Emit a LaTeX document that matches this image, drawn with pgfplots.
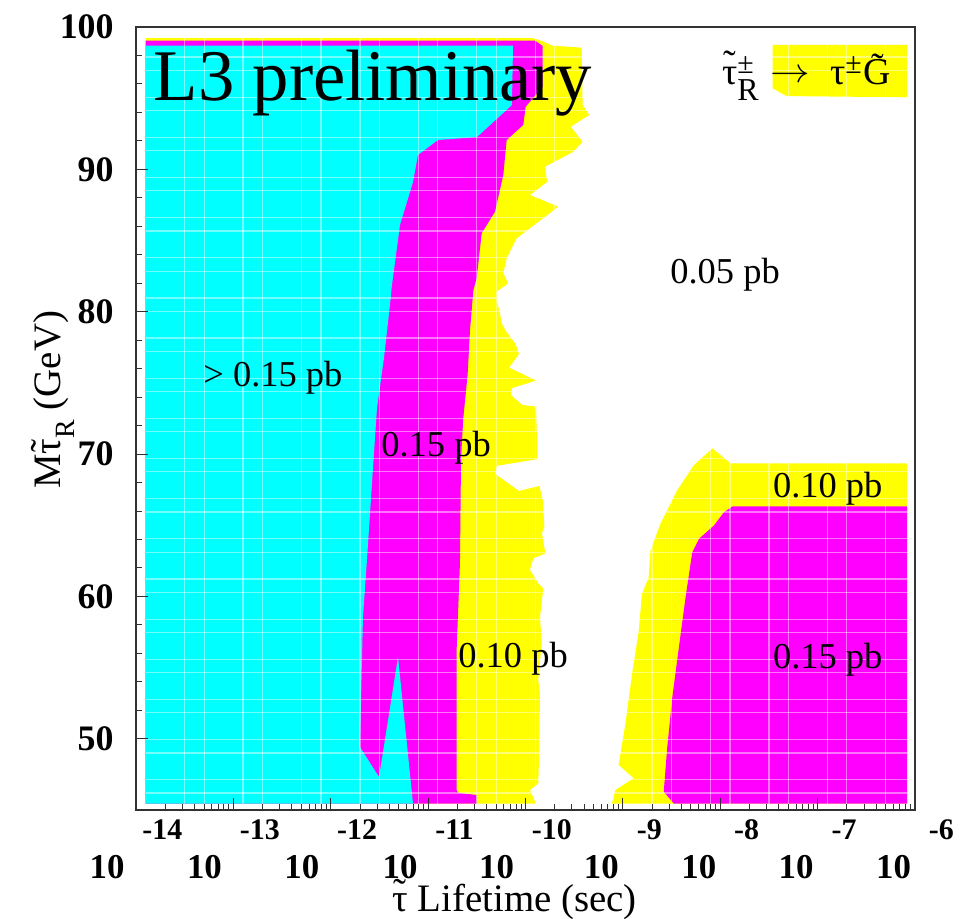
\documentclass[border=0pt]{standalone}
\usepackage{pgfplots}
\usepackage{pgfplotstable}
\pgfplotsset{compat=1.18}
\usepackage{fontspec}
\setmainfont{Liberation Serif}

\definecolor{zcyan}{RGB}{0,255,255}
\definecolor{zmagenta}{RGB}{255,0,255}
\definecolor{zyellow}{RGB}{255,255,0}

% tilde set over a glyph (slepton / gravitino notation)
\newcommand{\tildeon}[2][0pt]{\leavevmode\setbox0\hbox{#2}\rlap{\hbox to \wd0{\hss\raisebox{#1}{˜}\hss}}\box0}
% decade tick label: 10 with a raised exponent
\newcommand{\pw}[1]{\textbf{10}\hspace{9bp}\raisebox{19.5bp}{\fontsize{15}{15}\selectfont\bfseries -#1}}

% contour regions, log10(lifetime/s) versus stau mass (GeV)
\pgfplotstableread{
lx m
-13.9 45.45
-13.9 99.21
-9.920 99.21
-9.834 99.02
-9.721 98.69
-9.423 98.55
-9.413 94.52
-9.345 93.82
-9.536 93.00
-9.413 91.94
-9.509 91.24
-9.800 90.19
-9.776 89.13
-9.954 88.20
-9.663 87.38
-10.090 85.16
-10.193 83.75
-10.228 82.70
-10.177 82.00
-10.296 81.41
-10.293 80.82
-10.241 79.15
-10.205 78.68
-10.101 77.73
-10.067 77.03
-10.169 76.07
-9.892 75.17
-10.136 74.64
-10.153 74.17
-10.032 73.45
-9.892 73.33
-9.876 69.65
-10.293 69.18
-10.309 68.60
-10.067 67.41
-9.858 67.76
-9.823 66.81
-9.806 64.91
-9.831 64.46
-9.796 63.02
-9.920 62.68
-9.954 61.86
-9.869 60.92
-9.817 60.57
-9.851 58.58
-9.834 56.71
-9.869 54.13
-9.851 53.20
-9.858 49.21
-9.869 46.87
-9.954 46.40
-9.902 45.58
-9.902 45.45
}\yellowL

\pgfplotstableread{
lx m
-13.9 45.45
-13.9 99.04
-9.902 99.04
-9.823 98.67
-9.823 95.81
-9.998 94.40
-10.023 93.12
-10.193 92.06
-10.228 89.60
-10.313 87.03
-10.450 85.51
-10.501 82.35
-10.535 81.53
-10.570 78.68
-10.594 75.59
-10.639 72.51
-10.662 69.65
-10.673 62.31
-10.707 56.24
-10.707 46.40
-10.690 46.21
-10.501 46.05
-10.501 45.45
}\magentaL

\pgfplotstableread{
lx m
-13.9 45.45
-13.9 98.69
-10.128 98.69
-10.139 94.52
-10.498 92.27
-10.899 92.06
-11.104 91.01
-11.155 89.11
-11.289 86.09
-11.371 81.88
-11.392 80.47
-11.453 76.75
-11.525 73.24
-11.576 67.97
-11.628 62.56
-11.669 58.56
-11.700 49.42
-11.504 47.32
-11.309 55.75
-11.155 45.45
}\cyanL

\pgfplotstableread{
lx m
-9.113 45.45
-9.078 46.40
-8.889 47.23
-9.044 48.17
-8.975 50.99
-8.906 54.52
-8.837 57.57
-8.804 60.17
-8.735 61.34
-8.717 63.22
-8.614 65.10
-8.442 67.46
-8.270 69.22
-8.081 70.40
-7.892 69.34
-6.08 69.34
-6.08 45.45
}\yellowR

\pgfplotstableread{
lx m
-8.476 45.45
-8.580 46.28
-8.545 49.34
-8.493 52.87
-8.425 56.40
-8.356 59.93
-8.287 63.11
-8.218 64.05
-8.064 64.99
-7.960 65.93
-7.874 66.33
-6.08 66.33
-6.08 45.45
}\magentaR

\pgfplotstableread{
lx m
-7.461 98.74
-6.08 98.74
-6.08 95.06
-7.318 95.15
-7.461 95.69
}\yellowTop

\begin{document}
\begin{tikzpicture}
\useasboundingbox (-68bp,-54.5bp) rectangle (413.5bp,405bp);
\begin{axis}[
  at={(0,0)}, anchor=south west,
  scale only axis, width=389.5bp, height=391.5bp,
  xmode=log, xmin=1e-14, xmax=1e-6,
  ymin=45, ymax=100,
  xtick={1e-14,1e-13,1e-12,1e-11,1e-10,1e-9,1e-8,1e-7,1e-6},
  xticklabels={\pw{14},\pw{13},\pw{12},\pw{11},\pw{10},\pw{9},\pw{8},\pw{7},\pw{6}},
  ytick={50,60,70,80,90,100},
  yticklabels={\textbf{50},\textbf{60},\textbf{70},\textbf{80},\textbf{90},\textbf{100}},
  minor y tick num=4,
  xtick pos=left, ytick pos=left,
  tick align=inside,
  major tick length=6bp, minor tick length=3bp,
  tick style={black!80, line width=0.5bp},
  axis line style={black!80, line width=0.8bp},
  xticklabel style={font=\fontsize{17.5}{18}\selectfont\bfseries, anchor=base, yshift=-34bp},
  yticklabel style={font=\fontsize{18}{20}\selectfont\bfseries, anchor=east, inner sep=0pt, xshift=-11bp},
  axis on top, clip=false,
]
\addplot[fill=zyellow, draw=none] table[x expr=10^(\thisrow{lx}), y=m] {\yellowL};
\addplot[fill=zmagenta, draw=none] table[x expr=10^(\thisrow{lx}), y=m] {\magentaL};
\addplot[fill=zcyan, draw=none] table[x expr=10^(\thisrow{lx}), y=m] {\cyanL};
\addplot[fill=zyellow, draw=none] table[x expr=10^(\thisrow{lx}), y=m] {\yellowR};
\addplot[fill=zmagenta, draw=none] table[x expr=10^(\thisrow{lx}), y=m] {\magentaR};
\addplot[fill=zyellow, draw=none] table[x expr=10^(\thisrow{lx}), y=m] {\yellowTop};

% faint cell boundaries of the scan grid
\pgfplotsinvokeforeach{0.0625,0.0875,0.1375,0.1625,0.2125,0.2375,0.2875,0.3125,0.3625,0.3875,0.4375,0.4625,0.5125,0.5375,0.5875,0.6125,0.6625,0.6875,0.7375,0.7625,0.8125,0.8375,0.8875,0.9125,0.9625}{
  \draw[white, opacity=0.45, line width=0.6bp] (rel axis cs:#1,0.0082) -- (rel axis cs:#1,0.9856);
}
\pgfplotsinvokeforeach{0,1,3,4,6,7,9,10,12,13,15,16,18,19,21,22,24,25,27,28,30,31,33,34,36,37,39,40,42,43,45,46,48,49,51,52,54,55}{
  \draw[white, opacity=0.45, line width=0.6bp] (rel axis cs:0.0125,{(1.19+0.94*#1)/55}) -- (rel axis cs:0.99,{(1.19+0.94*#1)/55});
}

\node[anchor=base west, font=\fontsize{36.5}{40}\selectfont, inner sep=0pt] at (rel axis cs:0.0222,0.9055) {L3 preliminary};
\node[anchor=base west, font=\fontsize{19}{21}\selectfont, inner sep=0pt] at (rel axis cs:0.7519,0.9272)
  {\tildeon[0.2em]{τ}\rlap{\raisebox{5.5bp}{\fontsize{15}{15}\selectfont ±}}\raisebox{-8bp}{\fontsize{16}{16}\selectfont R}\hspace{6bp}\raisebox{1bp}{\scalebox{1.15}[1]{$\rightarrow$}}\hspace{10bp}τ\raisebox{5.5bp}{\fontsize{15}{15}\selectfont ±}\hspace{1bp}\tildeon[0.12em]{G}};
\node[anchor=base west, font=\fontsize{18.3}{20}\selectfont, inner sep=0pt] at (rel axis cs:0.086,0.5415) {> 0.15 pb};
\node[anchor=base west, font=\fontsize{18.3}{20}\selectfont, inner sep=0pt] at (rel axis cs:0.3145,0.4521) {0.15 pb};
\node[anchor=base west, font=\fontsize{18.3}{20}\selectfont, inner sep=0pt] at (rel axis cs:0.4133,0.1826) {0.10 pb};
\node[anchor=base west, font=\fontsize{18.3}{20}\selectfont, inner sep=0pt] at (rel axis cs:0.6855,0.6718) {0.05 pb};
\node[anchor=base west, font=\fontsize{18.3}{20}\selectfont, inner sep=0pt] at (rel axis cs:0.8173,0.3997) {0.10 pb};
\node[anchor=base west, font=\fontsize{18.3}{20}\selectfont, inner sep=0pt] at (rel axis cs:0.8173,0.1808) {0.15 pb};

\node[anchor=base, font=\fontsize{19.5}{22}\selectfont, inner sep=0pt] at ([yshift=-50.5bp]rel axis cs:0.486,0)
  {\tildeon[0.15em]{τ}\hspace{0.25em}Lifetime (sec)};
\node[anchor=base, rotate=90, font=\fontsize{19.5}{22}\selectfont, inner sep=0pt] at ([xshift=-37.5bp]rel axis cs:0,0.524)
  {M\tildeon[0.1em]{τ}\raisebox{-0.35em}{\fontsize{14}{14}\selectfont R} (GeV)};
\end{axis}
\end{tikzpicture}
\end{document}
